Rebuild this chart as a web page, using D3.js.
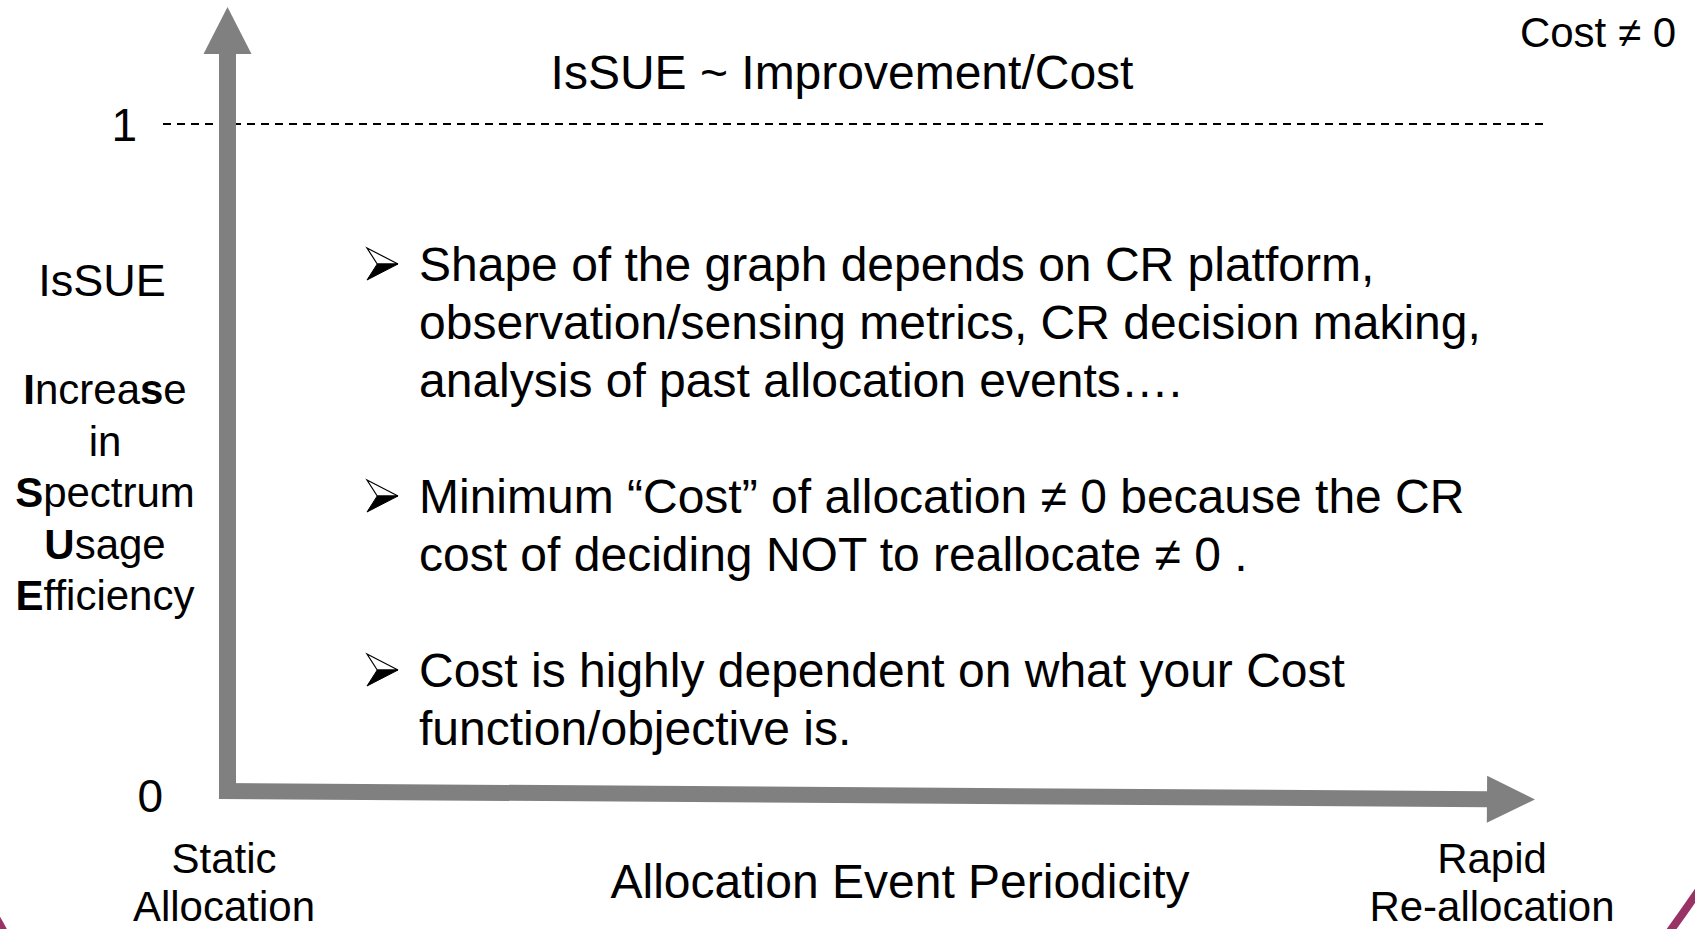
<!DOCTYPE html>
<html>
<head>
<meta charset="utf-8">
<script src="https://cdn.jsdelivr.net/npm/d3@7"></script>
<style>
  body { margin: 0; background: #fff; }
  svg { display: block; }
  text { font-family: "Liberation Sans", Arial, sans-serif; fill: #000; }
</style>
</head>
<body>
<div id="chart"></div>
<script>
// values
const yTicks = [0, 1];
const xEnds = ["Static Allocation", "Rapid Re-allocation"];
const xEndLines = [["Static", "Allocation"], ["Rapid", "Re-allocation"]];
const title = "IsSUE ~ Improvement/Cost";
const costNote = "Cost \u2260 0";
const xTitle = "Allocation Event Periodicity";
const yShort = "IsSUE";
// each line is a list of [text, bold] pieces
const yLong = [
  [["I", true], ["ncrea", false], ["s", true], ["e", false]],
  [["in", false]],
  [["S", true], ["pectrum", false]],
  [["U", true], ["sage", false]],
  [["E", true], ["fficiency", false]]
];
const bullets = [
  ["Shape of the graph depends on CR platform,",
   "observation/sensing metrics, CR decision making,",
   "analysis of past allocation events\u2026."],
  ["Minimum \u201cCost\u201d of allocation \u2260 0 because the CR",
   "cost of deciding NOT to reallocate \u2260 0 ."],
  ["Cost is highly dependent on what your Cost",
   "function/objective is."]
];

const W = 1695, H = 929;
const GREY = "#808080";

const svg = d3.select("#chart").append("svg")
  .attr("width", W)
  .attr("height", H);

const y = d3.scaleLinear().domain([0, 1]).range([795, 124]);
const x = d3.scalePoint().domain(xEnds).range([224, 1492]);

// dashed line at IsSUE = 1
svg.append("line")
  .attr("x1", 163).attr("x2", 1543)
  .attr("y1", y(1)).attr("y2", y(1))
  .attr("stroke", "#000")
  .attr("stroke-width", 1.8)
  .attr("stroke-dasharray", "8 6");

// y axis arrow
const ax = 227.5;
svg.append("rect")
  .attr("x", ax - 8.5).attr("y", 50)
  .attr("width", 17).attr("height", 799 - 50)
  .attr("fill", GREY);
svg.append("path")
  .attr("d", `M${ax},7 L${ax + 24},54 L${ax - 24},54 Z`)
  .attr("fill", GREY);

// x axis arrow, very slightly tilted like the original
const x0 = 219, yy0 = 791, tip = 1535;
const ang = Math.atan2(8.5, tip - x0) * 180 / Math.PI;
const xa = svg.append("g")
  .attr("transform", `rotate(${ang},${x0},${yy0})`);
xa.append("rect")
  .attr("x", x0).attr("y", yy0 - 8)
  .attr("width", 1488 - x0).attr("height", 16)
  .attr("fill", GREY);
xa.append("path")
  .attr("d", `M${tip},${yy0} L1487,${yy0 - 23.5} L1487,${yy0 + 23.5} Z`)
  .attr("fill", GREY);

// tick labels 0 / 1
svg.selectAll(".ytick")
  .data(yTicks)
  .join("text")
  .attr("class", "ytick")
  .attr("x", d => d === 1 ? 137 : 163)
  .attr("y", d => y(d))
  .attr("dy", "0.36em")
  .attr("text-anchor", "end")
  .style("font-size", "46px")
  .text(d => d);

// titles
svg.append("text")
  .attr("x", 842).attr("y", 89)
  .attr("text-anchor", "middle")
  .style("font-size", "48px")
  .text(title);

svg.append("text")
  .attr("x", 1676).attr("y", 47)
  .attr("text-anchor", "end")
  .style("font-size", "42px")
  .text(costNote);

svg.append("text")
  .attr("x", 900).attr("y", 898)
  .attr("text-anchor", "middle")
  .style("font-size", "48px")
  .text(xTitle);

// x end labels
const ends = svg.selectAll(".xend")
  .data(xEnds)
  .join("text")
  .attr("class", "xend")
  .attr("text-anchor", "middle")
  .style("font-size", "42px");
ends.selectAll("tspan")
  .data((d, i) => xEndLines[i].map((t, j) => ({ t, j, i })))
  .join("tspan")
  .attr("x", d => x(xEnds[d.i]))
  .attr("y", d => d.j === 0 ? 873 : 921)
  .text(d => d.t);

// y axis label
svg.append("text")
  .attr("x", 102).attr("y", 296)
  .attr("text-anchor", "middle")
  .style("font-size", "45px")
  .text(yShort);

const yl = svg.selectAll(".ylong")
  .data(yLong)
  .join("text")
  .attr("class", "ylong")
  .attr("x", 105)
  .attr("y", (d, i) => 404 + i * 51.5)
  .attr("text-anchor", "middle")
  .style("font-size", "42px");
yl.selectAll("tspan")
  .data(d => d)
  .join("tspan")
  .style("font-weight", d => d[1] ? "bold" : "normal")
  .text(d => d[0]);

// bullet text
const LH = 58, firstBase = 281;
let row = 0;
bullets.forEach((lines, bi) => {
  const base = firstBase + row * LH;
  // arrowhead bullet (wingdings style)
  const bx = 367, by = base - 33, bw = 31, bh = 32;
  const g = svg.append("g");
  g.append("path")
    .attr("d", `M${bx},${by} L${bx + bw},${by + bh / 2} L${bx + bw * 0.33},${by + bh / 2} Z`)
    .attr("fill", "#fff").attr("stroke", "#000").attr("stroke-width", 1.2)
    .attr("stroke-linejoin", "miter");
  g.append("path")
    .attr("d", `M${bx + bw * 0.33},${by + bh / 2} L${bx + bw},${by + bh / 2} L${bx},${by + bh} Z`)
    .attr("fill", "#000").attr("stroke", "#000").attr("stroke-width", 1);
  svg.append("g").selectAll("text")
    .data(lines)
    .join("text")
    .attr("x", 419)
    .attr("y", (d, i) => base + i * LH)
    .style("font-size", "48px")
    .text(d => d);
  row += lines.length + 1;
});

// bits of the slide border showing at the bottom corners
svg.append("path")
  .attr("d", "M1668,934 Q1684,912 1699,890")
  .attr("fill", "none")
  .attr("stroke", "#993366")
  .attr("stroke-width", 8);
svg.append("path")
  .attr("d", "M-4,916 Q1,924 6,934")
  .attr("fill", "none")
  .attr("stroke", "#993366")
  .attr("stroke-width", 6);
</script>
</body>
</html>
